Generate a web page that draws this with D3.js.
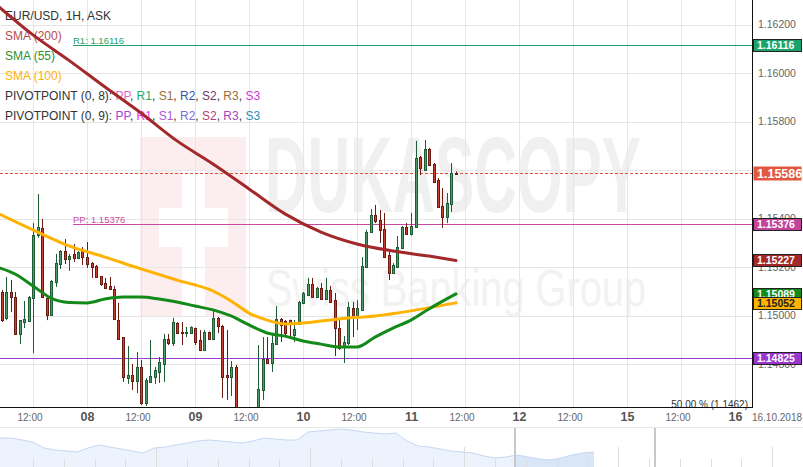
<!DOCTYPE html>
<html><head><meta charset="utf-8">
<script src="https://cdn.jsdelivr.net/npm/d3@7/dist/d3.min.js"></script>
<style>
html,body{margin:0;padding:0;background:#fff;}
svg{display:block;font-family:"Liberation Sans",Arial,sans-serif;}
</style></head><body>
<svg id="c" width="803" height="467"></svg>
<script>
// ---------- DATA ----------
const firstHour = 5; // hour index of first candle (hour 0 = 05 Oct 00:00, weekends skipped)
const opens = [1.15097,1.14990,1.15097,1.15076,1.14924,1.14973,1.14977,1.15072,1.15332,1.15361,
1.15072,1.15002,1.15138,1.15212,1.15266,1.15233,1.15254,1.15237,1.15266,1.15241,
1.15216,1.15204,1.15163,1.15134,1.15122,1.15109,1.14981,1.14911,1.14742,1.14755,
1.14730,1.14788,1.14639,1.14726,1.14746,1.14767,1.14800,1.14903,1.14887,1.14969,
1.14932,1.14928,1.14928,1.14948,1.14899,1.14858,1.14932,1.14903,1.14990,1.14957,
1.14755,1.14746,1.14788,1.14590,1.14560,1.14540,1.14570,1.14590,1.14693,1.14821,
1.14804,1.14882,1.14986,1.14977,1.14981,1.14920,1.14965,1.15052,1.15085,1.15130,
1.15076,1.15113,1.15068,1.15105,1.15064,1.14948,1.14870,1.14887,1.15031,1.14994,
1.15023,1.15200,1.15344,1.15414,1.15394,1.15357,1.15249,1.15175,1.15200,1.15278,
1.15365,1.15336,1.15365,1.15654,1.15600,1.15687,1.15625,1.15559,1.15452,1.15406,
1.15460,1.15588];
const highs = [1.15105,1.15159,1.15146,1.15097,1.14981,1.15060,1.15080,1.15381,1.15501,1.15398,
1.15076,1.15146,1.15254,1.15270,1.15315,1.15254,1.15295,1.15266,1.15282,1.15303,
1.15221,1.15208,1.15163,1.15155,1.15159,1.15122,1.15052,1.14911,1.14874,1.14800,
1.14849,1.14816,1.14742,1.14899,1.14788,1.14829,1.14924,1.14924,1.14990,1.14973,
1.14973,1.14953,1.14955,1.14950,1.14940,1.14940,1.14934,1.15023,1.14994,1.14961,
1.14940,1.14812,1.14796,1.14610,1.14600,1.14590,1.14610,1.14878,1.14911,1.14911,
1.14928,1.15039,1.14990,1.14981,1.14983,1.14981,1.15060,1.15097,1.15155,1.15155,
1.15118,1.15134,1.15155,1.15122,1.15093,1.14986,1.14915,1.15056,1.15056,1.15064,
1.15241,1.15353,1.15439,1.15456,1.15435,1.15423,1.15270,1.15216,1.15328,1.15369,
1.15381,1.15423,1.15720,1.15658,1.15724,1.15691,1.15629,1.15567,1.15526,1.15505,
1.15629,1.15594];
const lows = [1.14973,1.14981,1.15014,1.14920,1.14882,1.14948,1.14973,1.14845,1.15320,1.15072,
1.14981,1.14998,1.15118,1.15192,1.15212,1.15184,1.15221,1.15233,1.15208,1.15196,
1.15155,1.15155,1.15122,1.15111,1.15105,1.14981,1.14899,1.14726,1.14718,1.14693,
1.14680,1.14631,1.14627,1.14722,1.14718,1.14722,1.14726,1.14878,1.14874,1.14924,
1.14878,1.14911,1.14924,1.14878,1.14854,1.14854,1.14899,1.14899,1.14928,1.14660,
1.14652,1.14668,1.14569,1.14530,1.14510,1.14500,1.14550,1.14570,1.14652,1.14802,
1.14767,1.14878,1.14891,1.14915,1.14911,1.14891,1.14961,1.15047,1.15080,1.15072,
1.15072,1.15064,1.15064,1.15052,1.14833,1.14858,1.14804,1.14878,1.14911,1.14940,
1.15020,1.15196,1.15340,1.15381,1.15299,1.15237,1.15146,1.15171,1.15198,1.15274,
1.15332,1.15330,1.15363,1.15579,1.15596,1.15616,1.15546,1.15443,1.15361,1.15381,
1.15427,1.15580];
const closes = [1.14981,1.15097,1.15076,1.14924,1.14981,1.14986,1.15076,1.15332,1.15365,1.15076,
1.15002,1.15142,1.15216,1.15266,1.15233,1.15245,1.15237,1.15262,1.15241,1.15212,
1.15200,1.15159,1.15130,1.15113,1.15109,1.14986,1.14903,1.14746,1.14755,1.14730,
1.14788,1.14639,1.14734,1.14751,1.14775,1.14808,1.14903,1.14887,1.14973,1.14928,
1.14926,1.14932,1.14953,1.14891,1.14858,1.14932,1.14903,1.14990,1.14957,1.14746,
1.14746,1.14788,1.14590,1.14560,1.14540,1.14570,1.14590,1.14697,1.14821,1.14804,
1.14887,1.14986,1.14961,1.14928,1.14965,1.14944,1.15056,1.15093,1.15130,1.15076,
1.15113,1.15068,1.15105,1.15056,1.14948,1.14866,1.14891,1.15035,1.14990,1.15031,
1.15204,1.15344,1.15414,1.15390,1.15353,1.15241,1.15175,1.15208,1.15282,1.15365,
1.15336,1.15369,1.15650,1.15608,1.15687,1.15621,1.15551,1.15447,1.15406,1.15464,
1.15588,1.15586];

// moving averages, sampled at hour indices
const sma200Hours  = [4,12,20,28,36,44,52,60,68,76,84,92,100,106];
const sma200Values = [1.16280,1.16157,1.16052,1.15942,1.15835,1.15720,1.15625,1.15522,1.15419,1.15344,1.15295,1.15266,1.15245,1.15227];
const sma100Hours  = [4,12,20,28,36,44,52,56,60,64,68,72,80,88,96,106];
const sma100Values = [1.15423,1.15353,1.15287,1.15241,1.15192,1.15146,1.15101,1.15060,1.15010,1.14981,1.14965,1.14969,1.14986,1.14998,1.15019,1.15052];
const sma55Hours   = [4,8,12,16,20,24,28,32,36,40,44,48,52,56,60,64,68,72,76,80,84,88,92,96,100,106];
const sma55Values  = [1.15200,1.15171,1.15122,1.15072,1.15054,1.15052,1.15068,1.15076,1.15076,1.15068,1.15056,1.15039,1.15023,1.14998,1.14961,1.14928,1.14915,1.14895,1.14882,1.14870,1.14870,1.14911,1.14948,1.14981,1.15027,1.15089];

// price levels
const lastPrice = 1.15586;
const r1Level = 1.16116;
const ppLevel = 1.15376;
const s1Level = 1.14825;

// legend
const instrument = "EUR/USD, 1H, ASK";
const maLegend = [["SMA (200)","#b94a4a"],["SMA (55)","#2e8f2e"],["SMA (100)","#ffb300"]];
const pivotNames = ["PP","R1","S1","R2","S2","R3","S3"];
const pivot8Colors = ["#d76cbb","#27a86a","#9a7330","#3552a3","#6b3a6b","#9c6a3a","#d23ad2"];
const pivot9Colors = ["#a546d6","#f030f0","#b05ad6","#7a6fd6","#b8407a","#a347b8","#2a8fb8"];

// axes
const priceTicks = [1.148,1.150,1.152,1.154,1.156,1.158,1.160,1.162];
const timeTickHours = [12,24,36,48,60,72,84,96,108,120,132,144,156,168];
const timeTickLabels = ["12:00","08","12:00","09","12:00","10","12:00","11","12:00","12","12:00","15","12:00","16"];
const dateLabel = "16.10.2018";

// navigator series (relative level)
const navValues = [29,29,27,25,19,17,16,15,19,22,20,18,16,14,19,20,22,24,26,27,26,25,24,26,29,28,27,27,35,36,37,38,37,35,34,33,34,26,21,20,18,16,15,14,11,9,10,12,10,8,7,9,12,14,15];

// ---------- DRAW ----------
const W = 752, H = 407;
const svg = d3.select("#c");
const x = d3.scaleLinear().domain([0,172]).range([-21,753]);
const y = d3.scaleLinear().domain([1.15,1.16]).range([315.5,73]);

svg.append("defs").append("clipPath").attr("id","plot")
  .append("rect").attr("x",0).attr("y",0).attr("width",W).attr("height",H);

const plot = svg.append("g").attr("clip-path","url(#plot)");

// watermark
const wm = plot.append("g");
wm.append("rect").attr("x",140).attr("y",137).attr("width",106).attr("height",179).attr("fill","#fcedee");
wm.append("rect").attr("x",159).attr("y",208).attr("width",69).attr("height",39).attr("fill","#fff");
wm.append("rect").attr("x",182).attr("y",170).attr("width",23).attr("height",146).attr("fill","#fff");
wm.append("text").attr("x",265).attr("y",212).attr("font-size",107).attr("font-weight","bold")
  .attr("textLength",376).attr("lengthAdjust","spacingAndGlyphs").attr("fill","#f0f0f0").text("DUKASCOPY");
wm.append("text").attr("x",266).attr("y",306).attr("font-size",52)
  .attr("textLength",380).attr("lengthAdjust","spacingAndGlyphs").attr("fill","#f2f2f2").text("Swiss Banking Group");

// grid
plot.append("g").selectAll("line").data(priceTicks).join("line")
  .attr("x1",0).attr("x2",W).attr("y1",d=>Math.round(y(d))+0.5).attr("y2",d=>Math.round(y(d))+0.5)
  .attr("stroke","#e6e6e6");
plot.append("g").selectAll("line").data(timeTickHours).join("line")
  .attr("y1",0).attr("y2",H).attr("x1",d=>Math.round(x(d))+0.5).attr("x2",d=>Math.round(x(d))+0.5)
  .attr("stroke","#e6e6e6");

// legend (under the indicator lines, as in the reference)
const lg = svg.append("g").attr("font-size",12);
lg.append("text").attr("x",5).attr("y",20).attr("fill","#333").text(instrument);
maLegend.forEach((m,i)=>{
  lg.append("text").attr("x",5).attr("y",40+20.1*i).attr("fill",m[1]).text(m[0]);
});
[["PIVOTPOINT (0, 8): ",pivot8Colors],["PIVOTPOINT (0, 9): ",pivot9Colors]].forEach((p,i)=>{
  const t = lg.append("text").attr("x",5).attr("y",100.3+20.1*i).attr("fill","#333");
  t.append("tspan").text(p[0]);
  pivotNames.forEach((n,j)=>{
    t.append("tspan").attr("fill",p[1][j]).text(n);
    if(j<pivotNames.length-1) t.append("tspan").attr("fill","#333").text(", ");
  });
});

const upper = svg.append("g").attr("clip-path","url(#plot)");

// pivot / price lines
function hline(v,x0,color,dash){
  const yy = Math.round(y(v))+0.5;
  const l = upper.append("line").attr("x1",x0).attr("x2",W).attr("y1",yy).attr("y2",yy).attr("stroke",color);
  if(dash) l.attr("stroke-dasharray",dash);
}
hline(r1Level,73,"#22a36c");
hline(ppLevel,73,"#c94ba0");
hline(s1Level,0,"#9b3bcf");
hline(lastPrice,0,"#e0533a","3,2");
upper.append("text").attr("x",73).attr("y",Math.round(y(r1Level))-1.5).attr("font-size",9.5).attr("fill","#22a36c").text("R1: "+r1Level.toFixed(5));
upper.append("text").attr("x",73).attr("y",Math.round(y(ppLevel))-1.5).attr("font-size",9.5).attr("fill","#c94ba0").text("PP: "+ppLevel.toFixed(5));

// candles
const candles = opens.map((o,i)=>({h:firstHour+i,o,hi:highs[i],lo:lows[i],c:closes[i]}));
const cg = upper.append("g");
candles.forEach(d=>{
  const up = d.c >= d.o;
  const stroke = up ? "#1e5c36" : "#6b1a12";
  const fill = up ? "#4d9b6c" : "#c8402f";
  const cx = Math.round(x(d.h));
  cg.append("line").attr("x1",cx+0.5).attr("x2",cx+0.5).attr("y1",y(d.hi)).attr("y2",y(d.lo)).attr("stroke",stroke);
  const t = Math.round(y(Math.max(d.o,d.c))), b = Math.round(y(Math.min(d.o,d.c)));
  const hgt = Math.max(1, b-t);
  cg.append("rect").attr("x",cx-0.5).attr("y",t+0.5).attr("width",2).attr("height",hgt)
    .attr("fill",fill).attr("stroke",stroke).attr("stroke-width",1);
});

// moving averages
const ln = d3.line().x(d=>x(d[0])).y(d=>y(d[1])).curve(d3.curveMonotoneX);
function ma(hours,vals,color){
  upper.append("path").datum(hours.map((h,i)=>[h,vals[i]])).attr("d",ln)
    .attr("fill","none").attr("stroke",color).attr("stroke-width",3).attr("stroke-linejoin","round").attr("stroke-linecap","round");
}
ma(sma200Hours,sma200Values,"#a3282a");
ma(sma100Hours,sma100Values,"#ffb300");
ma(sma55Hours,sma55Values,"#13891a");

// bottom-right label
svg.append("text").attr("x",748).attr("y",407.5).attr("text-anchor","end").attr("font-size",10).attr("fill","#333").text("50.00 % (1.1462)");

// frame
svg.append("line").attr("x1",0).attr("x2",W+1).attr("y1",H+0.5).attr("y2",H+0.5).attr("stroke","#111");
svg.append("line").attr("x1",W+0.5).attr("x2",W+0.5).attr("y1",0).attr("y2",H+1).attr("stroke","#111");

// value boxes (drawn over axis labels, as in the reference)
const boxes = [
  {v:r1Level, fill:"#1aa36a", text:"#fff", big:false},
  {v:ppLevel, fill:"#c2449a", text:"#fff", big:false},
  {v:1.15227, fill:"#a3282a", text:"#fff", big:false},
  {v:1.15089, fill:"#13891a", text:"#fff", big:false},
  {v:1.15052, fill:"#ffb300", text:"#222", big:false},
  {v:s1Level, fill:"#9b35cf", text:"#fff", big:false},
  {v:lastPrice, fill:"#e0583f", text:"#fff", big:true}
];

// right axis: labels fully hidden behind a value box are not drawn
const hidden = priceTicks.filter(t=>boxes.some(b=>Math.abs(y(b.v)-y(t))<4));
const ya = svg.append("g").attr("transform",`translate(${W+1},0)`)
  .call(d3.axisRight(y).tickValues(priceTicks).tickFormat(d=>hidden.includes(d)?"":d3.format(".5f")(d)).tickSize(0).tickPadding(5));
ya.select(".domain").remove();
ya.selectAll("text").attr("font-size",10.5).attr("fill","#666").attr("font-family","Liberation Sans, Arial, sans-serif");

boxes.forEach(b=>{
  const cy = y(b.v);
  const hh = b.big ? 14 : 12;
  const r = svg.append("rect").attr("x",753.5).attr("y",Math.round(cy-hh/2)+0.5).attr("width",48).attr("height",hh).attr("fill",b.fill);
  if(!b.big) r.attr("stroke","#222").attr("stroke-width",1);
  svg.append("text").attr("x",757).attr("y",cy).attr("dy","0.36em")
    .attr("font-size",b.big?12.5:10.5).attr("font-weight","bold").attr("fill",b.text).text(b.v.toFixed(5));
});

// bottom axis
const xa = svg.append("g").attr("transform",`translate(0,${H})`)
  .call(d3.axisBottom(x).tickValues(timeTickHours).tickFormat((d,i)=>timeTickLabels[i]).tickSize(0).tickPadding(7));
xa.select(".domain").remove();
xa.selectAll("text").each(function(d,i){
  const isDay = timeTickLabels[i] !== "12:00";
  d3.select(this).attr("font-family","Liberation Sans, Arial, sans-serif")
    .attr("font-size",isDay?12.5:10).attr("font-weight",isDay?"bold":"normal")
    .attr("fill",isDay?"#555":"#666").attr("dx",isDay?"0":"-3.5").attr("y", 14).attr("dy", isDay? "0": "-0.5");
});
svg.append("text").attr("x",777).attr("y",420.5).attr("text-anchor","middle").attr("font-size",10).attr("fill","#666").text(dateLabel);

// navigator
svg.append("line").attr("x1",0).attr("x2",803).attr("y1",427.5).attr("y2",427.5).attr("stroke","#e8e8e8");
const nx = d3.scaleLinear().domain([0,navValues.length-1]).range([0,594]);
const ny = d3.scaleLinear().domain([0,40]).range([467,427]);
const nav = svg.append("g");
const area = d3.area().x((d,i)=>nx(i)).y0(467).y1(d=>ny(d));
nav.append("path").datum(navValues).attr("d",area).attr("fill","#edf3fc");
nav.append("clipPath").attr("id","sel").append("rect").attr("x",515).attr("y",427).attr("width",140).attr("height",40);
nav.append("path").datum(navValues).attr("d",area).attr("fill","#d9e6f8").attr("clip-path","url(#sel)");
nav.append("path").datum(navValues).attr("d",d3.line().x((d,i)=>nx(i)).y(d=>ny(d)))
  .attr("fill","none").attr("stroke","#c5d8f2").attr("stroke-width",1);
// navigator ticks
const navTicks = d3.range(33,803,30.8);
nav.selectAll("line.t").data(navTicks).join("line").attr("class","t")
  .attr("x1",d=>Math.round(d)+0.5).attr("x2",d=>Math.round(d)+0.5)
  .attr("y1",(d,i)=> (i%5===4)?447:459).attr("y2",467).attr("stroke","#dddddd");
[515,655].forEach(px=>{
  nav.append("rect").attr("x",px-1).attr("y",428).attr("width",2).attr("height",39).attr("fill","#c8c8c8");
});
</script>
</body></html>
